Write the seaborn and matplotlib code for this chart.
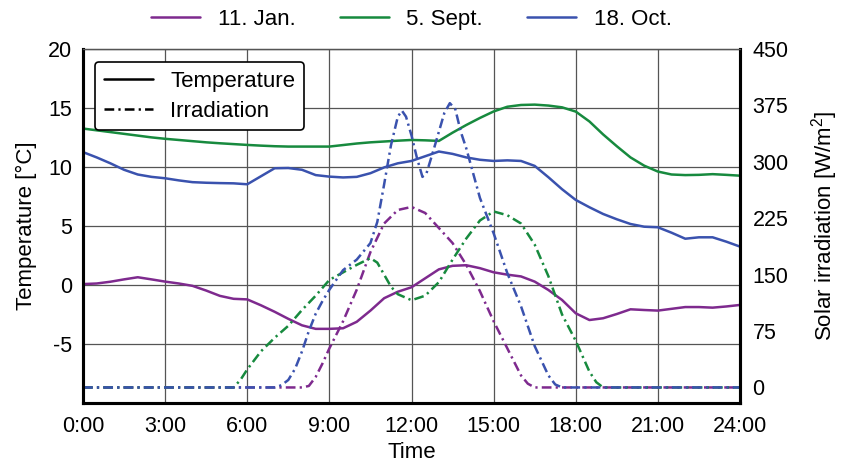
import matplotlib
matplotlib.use('Agg')
import matplotlib.pyplot as plt
import seaborn as sns
import pandas as pd
from matplotlib.lines import Line2D

days = ['11. Jan.', '5. Sept.', '18. Oct.']
day_colors = ['#7e2a8e', '#178a3e', '#3a52ae']
time_ticks = [0, 3, 6, 9, 12, 15, 18, 21, 24]
time_labels = ['0:00', '3:00', '6:00', '9:00', '12:00', '15:00', '18:00', '21:00', '24:00']
temp_ticks = [-5, 0, 5, 10, 15, 20]
irr_ticks = [0, 75, 150, 225, 300, 375, 450]

# temperature, read every half hour
temp_hours = [0, 0.5, 1, 1.5, 2, 2.5, 3, 3.5, 4, 4.5, 5, 5.5, 6, 6.5, 7, 7.5, 8, 8.5,
              9, 9.5, 10, 10.5, 11, 11.5, 12, 12.5, 13, 13.5, 14, 14.5, 15, 15.5, 16,
              16.5, 17, 17.5, 18, 18.5, 19, 19.5, 20, 20.5, 21, 21.5, 22, 22.5, 23, 23.5, 24]
temp_jan = [0.05, 0.1, 0.25, 0.45, 0.63, 0.45, 0.26, 0.1, -0.1, -0.5, -0.95, -1.2, -1.25,
            -1.75, -2.3, -2.9, -3.45, -3.75, -3.75, -3.7, -3.15, -2.2, -1.15, -0.6, -0.22,
            0.54, 1.3, 1.6, 1.65, 1.4, 1.05, 0.85, 0.7, 0.26, -0.45, -1.3, -2.43, -3.0,
            -2.85, -2.49, -2.09, -2.15, -2.2, -2.05, -1.9, -1.9, -1.95, -1.85, -1.72]
temp_sep = [13.25, 13.1, 12.95, 12.8, 12.65, 12.5, 12.38, 12.28, 12.18, 12.08, 12.0, 11.93,
            11.86, 11.8, 11.75, 11.72, 11.72, 11.72, 11.72, 11.85, 11.98, 12.08, 12.15,
            12.22, 12.28, 12.25, 12.2, 12.9, 13.55, 14.15, 14.7, 15.1, 15.25, 15.28, 15.2,
            15.05, 14.69, 13.85, 12.75, 11.75, 10.8, 10.1, 9.6, 9.35, 9.3, 9.32, 9.38,
            9.32, 9.25]
temp_oct = [11.25, 10.8, 10.3, 9.75, 9.35, 9.15, 9.03, 8.85, 8.7, 8.65, 8.62, 8.6, 8.52,
            9.2, 9.88, 9.9, 9.75, 9.3, 9.17, 9.1, 9.15, 9.46, 9.95, 10.3, 10.5, 10.9, 11.3,
            11.1, 10.8, 10.6, 10.5, 10.55, 10.5, 10.08, 9.12, 8.1, 7.19, 6.57, 6.0, 5.55,
            5.15, 4.92, 4.87, 4.41, 3.9, 4.02, 4.02, 3.65, 3.23]

# solar irradiation
irr_jan_hours = [0, 8, 8.25, 8.5, 8.75, 9, 9.5, 10, 10.5, 11, 11.5, 12, 12.5, 13, 13.5,
                 14, 14.5, 15, 15.5, 16, 16.25, 16.5, 24]
irr_jan = [0, 0, 2, 14, 32, 52, 88, 130, 180, 218, 236, 240, 232, 212, 192, 163, 128, 88,
           52, 16, 5, 0, 0]
irr_sep_hours = [0, 5.5, 5.75, 6, 6.5, 7, 7.5, 8, 8.5, 9, 9.5, 10, 10.5, 10.75, 11, 11.25,
                 11.5, 12, 12.5, 13, 13.5, 14, 14.5, 15, 15.5, 16, 16.5, 17, 17.5, 18,
                 18.5, 18.75, 19, 24]
irr_sep = [0, 0, 10, 24, 48, 66, 82, 103, 122, 143, 153, 163, 172, 166, 150, 134, 124, 116,
           122, 140, 170, 198, 222, 234, 229, 218, 190, 148, 97, 62, 21, 7, 0, 0]
irr_oct_hours = [0, 7, 7.25, 7.5, 7.75, 8, 8.25, 8.5, 8.75, 9, 9.5, 10, 10.5, 10.75, 11,
                 11.25, 11.5, 11.65, 11.8, 12, 12.2, 12.4, 12.55, 12.8, 13, 13.2, 13.4,
                 13.6, 13.8, 14, 14.25, 14.5, 15, 15.5, 16, 16.5, 17, 17.25, 17.5, 24]
irr_oct = [0, 0, 3, 10, 25, 48, 75, 98, 115, 130, 156, 170, 192, 220, 270, 322, 360, 368,
           360, 335, 305, 280, 285, 315, 340, 365, 378, 370, 340, 318, 285, 252, 205, 152,
           108, 55, 16, 4, 0, 0]

temp_df = pd.concat([pd.DataFrame({'Hour': temp_hours, 'Value': v, 'Day': d})
                     for d, v in zip(days, [temp_jan, temp_sep, temp_oct])])
irr_df = pd.concat([pd.DataFrame({'Hour': h, 'Value': v, 'Day': d})
                    for d, h, v in zip(days, [irr_jan_hours, irr_sep_hours, irr_oct_hours],
                                       [irr_jan, irr_sep, irr_oct])])

sns.set_theme(style='white')
plt.rcParams['font.family'] = ['Liberation Sans', 'DejaVu Sans']
plt.rcParams['mathtext.fontset'] = 'custom'
plt.rcParams['mathtext.rm'] = 'Liberation Sans'
plt.rcParams['mathtext.it'] = 'Liberation Sans'
plt.rcParams['lines.scale_dashes'] = False
plt.rcParams['axes.unicode_minus'] = False
plt.rcParams['text.color'] = 'black'
plt.rcParams['axes.labelcolor'] = 'black'

fig = plt.figure(figsize=(8.41, 4.65), dpi=100)
ax = fig.add_axes([0.0987, 0.1344, 0.7812, 0.7602])
ax2 = ax.twinx()

palette = dict(zip(days, day_colors))
sns.lineplot(data=temp_df, x='Hour', y='Value', hue='Day', palette=palette,
             estimator=None, errorbar=None, linewidth=1.8, legend=False, ax=ax)
sns.lineplot(data=irr_df, x='Hour', y='Value', hue='Day', palette=palette,
             estimator=None, errorbar=None, linewidth=1.8, legend=False, ax=ax2)
for line in ax.lines:
    line.set_solid_joinstyle('round')
for line in ax2.lines:
    line.set_linestyle((0, (7, 3, 1.6, 3)))

ax.set_xlim(0, 24)
ax.set_ylim(-10, 20)
ax2.set_ylim(-20, 450)
ax.set_xticks(time_ticks)
ax.set_xticklabels(time_labels)
ax.set_yticks(temp_ticks)
ax2.set_yticks(irr_ticks)

ax.grid(True, color='#555555', linewidth=0.9)
ax.set_axisbelow(True)

for a in (ax, ax2):
    for side in ('left', 'bottom', 'right'):
        a.spines[side].set_color('black')
        a.spines[side].set_linewidth(2.2)
    a.spines['top'].set_color('#555555')
    a.spines['top'].set_linewidth(0.9)
    a.tick_params(length=0, labelsize=15.5, colors='black')
ax.tick_params(axis='y', pad=8)
ax.tick_params(axis='x', pad=10)
ax2.tick_params(axis='y', pad=9)

ax.set_xlabel('Time', fontsize=16, labelpad=3)
ax.set_ylabel('Temperature [°C]', fontsize=16, labelpad=8)
ax2.set_ylabel('Solar irradiation [W/m$^2$]', fontsize=16, labelpad=15)

day_handles = [Line2D([], [], color=c, linewidth=1.8) for c in day_colors]
top_leg = ax2.legend(day_handles, days, loc='lower center', bbox_to_anchor=(0.5, 1.0),
                     ncol=3, frameon=False, fontsize=16, handlelength=2.2,
                     columnspacing=2.0, borderaxespad=0.45)
ax2.add_artist(top_leg)

kind_handles = [Line2D([], [], color='black', linewidth=1.8),
                Line2D([], [], color='black', linewidth=1.8, linestyle=(0, (7, 3, 1.6, 3)))]
kind_leg = ax2.legend(kind_handles, ['Temperature', 'Irradiation'], loc='upper left',
                      bbox_to_anchor=(0.018, 0.964), borderaxespad=0, fontsize=16,
                      handlelength=2.2, labelspacing=0.4, frameon=True, fancybox=True,
                      framealpha=1)
kind_leg.get_frame().set_edgecolor('black')
kind_leg.get_frame().set_linewidth(1.2)

fig.savefig('out.png', dpi=100)
